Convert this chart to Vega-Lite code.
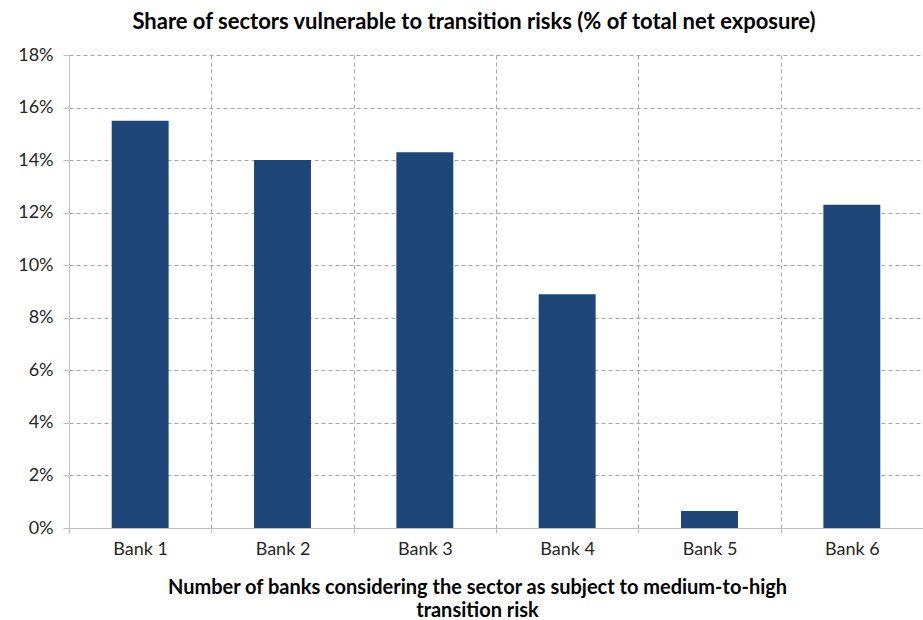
{
  "$schema": "https://vega.github.io/schema/vega-lite/v6.json",
  "width": 854,
  "height": 473,
  "autosize": {"type": "none"},
  "padding": {"left": 69, "top": 55, "right": 0, "bottom": 92},
  "background": "white",
  "title": {
    "text": "Share of sectors vulnerable to transition risks (% of total net exposure)",
    "font": "Lato",
    "fontSize": 22,
    "fontWeight": "bold",
    "color": "#000000",
    "anchor": "middle",
    "dx": -22,
    "offset": 12
  },
  "data": {
    "values": [
      {"bank": "Bank 1", "share": 0.155},
      {"bank": "Bank 2", "share": 0.140},
      {"bank": "Bank 3", "share": 0.143},
      {"bank": "Bank 4", "share": 0.089},
      {"bank": "Bank 5", "share": 0.0065},
      {"bank": "Bank 6", "share": 0.123}
    ]
  },
  "config": {
    "view": {"stroke": null},
    "font": "Lato"
  },
  "mark": {"type": "bar", "color": "#1f4678", "width": {"band": 0.4}},
  "encoding": {
    "x": {
      "field": "bank",
      "type": "nominal",
      "sort": null,
      "scale": {"paddingInner": 0, "paddingOuter": 0},
      "axis": {
        "title": ["Number of banks considering the sector as subject to medium-to-high", "transition risk"],
        "titleFont": "Lato",
        "titleFontSize": 20,
        "titleFontWeight": "bold",
        "titleColor": "#000000",
        "titlePadding": 19,
        "titleX": 408,
        "titleLineHeight": 23,
        "labelAngle": 0,
        "labelFont": "Lato",
        "labelFontSize": 18,
        "labelColor": "#262626",
        "labelPadding": 7,
        "tickBand": "extent",
        "tickSize": 5,
        "tickColor": "#bfbfbf",
        "domainColor": "#bfbfbf",
        "grid": true,
        "gridColor": "#a6a6a6",
        "gridDash": [4, 3],
        "gridWidth": 1
      }
    },
    "y": {
      "field": "share",
      "type": "quantitative",
      "scale": {"domain": [0, 0.18], "nice": false},
      "axis": {
        "title": null,
        "values": [0, 0.02, 0.04, 0.06, 0.08, 0.1, 0.12, 0.14, 0.16, 0.18],
        "format": ".0%",
        "labelFont": "Lato",
        "labelFontSize": 18,
        "labelColor": "#262626",
        "labelPadding": 10,
        "tickSize": 6,
        "tickColor": "#bfbfbf",
        "domainColor": "#bfbfbf",
        "grid": true,
        "gridColor": "#a6a6a6",
        "gridDash": [4, 3],
        "gridWidth": 1
      }
    }
  }
}
